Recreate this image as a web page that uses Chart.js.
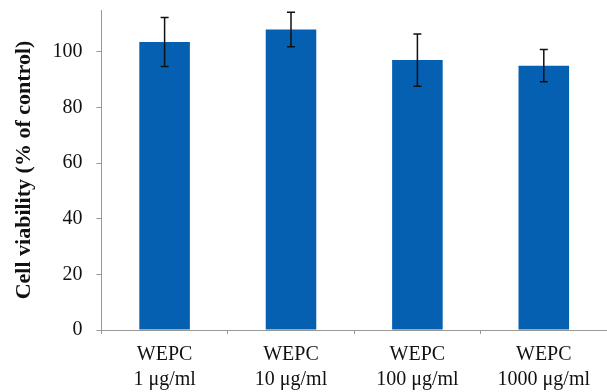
<!DOCTYPE html>
<html>

<head>
  <title>Cell Viability</title>
  <script src="https://cdn.jsdelivr.net/npm/chart.js@4.4.0/dist/chart.umd.min.js"></script>
  <style>
    body { margin: 0; background: #fff; }
    #wrap { width: 607px; height: 392px; }
  </style>
</head>

<body>
  <div id="wrap"><canvas id="viabilityChart"></canvas></div>

  <script>
    const categories = [
      ['WEPC', '1 μg/ml'],
      ['WEPC', '10 μg/ml'],
      ['WEPC', '100 μg/ml'],
      ['WEPC', '1000 μg/ml']
    ];
    const viability = [103.5, 108, 97, 95];
    const errors = [8.8, 6.2, 9.4, 5.8];
    const yTicks = [0, 20, 40, 60, 80, 100];

    const serif = '"Liberation Serif", "Times New Roman", serif';

    // draws the error bars on top of each bar
    const errorBars = {
      id: 'errorBars',
      afterDatasetsDraw(chart) {
        const ctx = chart.ctx;
        const y = chart.scales.y;
        const meta = chart.getDatasetMeta(0);
        ctx.save();
        ctx.strokeStyle = '#111';
        ctx.lineWidth = 1.5;
        meta.data.forEach((bar, i) => {
          const top = y.getPixelForValue(viability[i] + errors[i]);
          const bottom = y.getPixelForValue(viability[i] - errors[i]);
          ctx.beginPath();
          ctx.moveTo(bar.x, top);
          ctx.lineTo(bar.x, bottom);
          ctx.moveTo(bar.x - 4, top);
          ctx.lineTo(bar.x + 4, top);
          ctx.moveTo(bar.x - 4, bottom);
          ctx.lineTo(bar.x + 4, bottom);
          ctx.stroke();
        });
        ctx.restore();
      }
    };

    const ctx = document.getElementById('viabilityChart').getContext('2d');
    const chart = new Chart(ctx, {
      type: 'bar',
      data: {
        labels: categories,
        datasets: [{
          data: viability,
          backgroundColor: '#0560b2',
          barPercentage: 0.5,
          categoryPercentage: 0.8
        }]
      },
      options: {
        responsive: true,
        maintainAspectRatio: false,
        animation: false,
        layout: { padding: { top: 10, right: 0, left: 11, bottom: 0 } },
        plugins: {
          legend: { display: false },
          tooltip: { enabled: false }
        },
        scales: {
          x: {
            afterFit(scale) { scale.height -= 8; },
            grid: { drawOnChartArea: false, tickLength: 4, color: '#999' },
            border: { color: '#999' },
            ticks: {
              color: '#111',
              padding: 8,
              maxRotation: 0,
              font: { family: serif, size: 20, lineHeight: 1.25 }
            }
          },
          y: {
            min: 0,
            max: 115,
            afterBuildTicks(scale) {
              scale.ticks = yTicks.map(v => ({ value: v }));
            },
            afterFit(scale) { scale.paddingTop = 0; },
            grid: { drawOnChartArea: false, tickLength: 5, color: '#999' },
            border: { color: '#999' },
            ticks: {
              color: '#111',
              padding: 14,
              font: { family: serif, size: 20 }
            },
            title: {
              display: true,
              text: 'Cell viability (% of control)',
              color: '#111',
              padding: { top: 0, bottom: 1 },
              font: { family: serif, size: 22, weight: 'bold' }
            }
          }
        }
      },
      plugins: [errorBars]
    });
  </script>
</body>

</html>
